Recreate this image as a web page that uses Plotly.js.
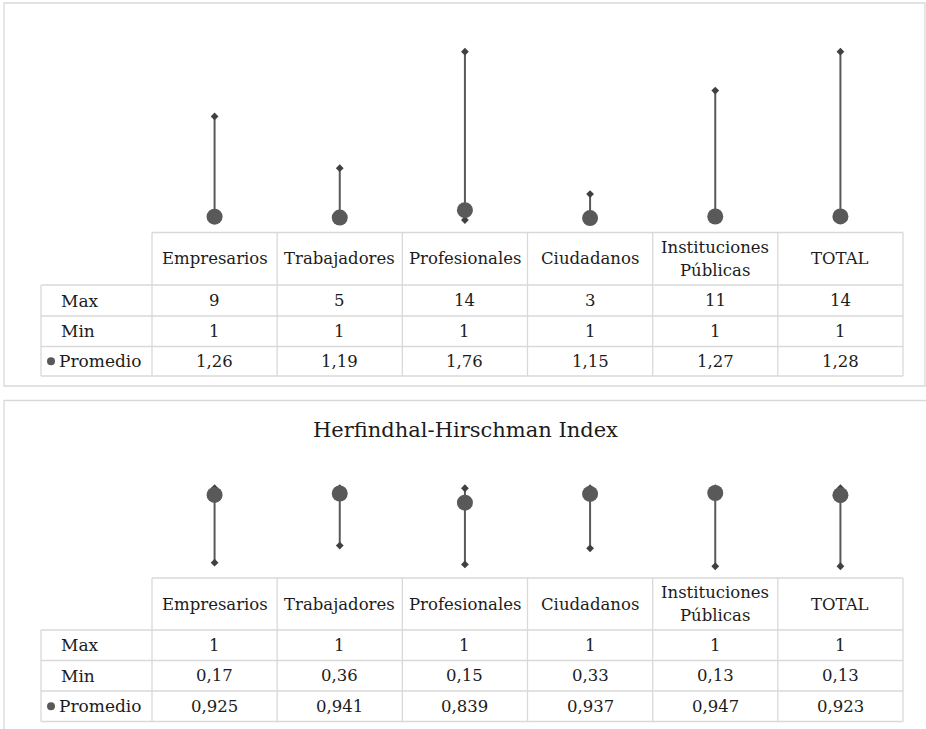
<!DOCTYPE html>
<html><head><meta charset="utf-8">
<script src="https://cdn.plot.ly/plotly-3.0.1.min.js"></script>
<style>html,body{margin:0;padding:0;background:#fff}#chart{width:926px;height:729px}</style>
</head><body><div id="chart"></div>
<script>
// ---------- data ----------
const categories = ['Empresarios','Trabajadores','Profesionales','Ciudadanos','Instituciones Públicas','TOTAL'];
const headerLabels = ['Empresarios','Trabajadores','Profesionales','Ciudadanos','Instituciones<br>Públicas','TOTAL'];
const rowLabels = ['Max','Min','Promedio'];
const countMax = [9,5,14,3,11,14];
const countMin = [1,1,1,1,1,1];
const countAvg = [1.26,1.19,1.76,1.15,1.27,1.28];
const hhiMax = [1,1,1,1,1,1];
const hhiMin = [0.17,0.36,0.15,0.33,0.13,0.13];
const hhiAvg = [0.925,0.941,0.839,0.937,0.947,0.923];
const hhiTitle = 'Herfindhal-Hirschman Index';

// ---------- layout constants (pixels) ----------
const W = 926, H = 729;
const PX = x => x / W;
const PY = y => 1 - y / H;
const LEG_LEFT = 41, CAT_LEFT = 152, CAT_RIGHT = 903;
const topRows = [232.5, 285, 316, 346.5, 376];
const botRows = [578, 630, 660.5, 691, 721.5];
const GRID = '#d9d9d9';
const TXT = '#1c1c1c';
const FONT = 'DejaVu Serif';
const FSIZE = 16.5;
const LEG_FSIZE = 17;
const LINE_GAP = 23;
const LINE_COL = '#595959', DIAM_COL = '#404040', DOT_COL = '#595959';

const fmt = v => String(v).replace('.', ',');

function rangeTraces(mx, mn, avg, xa, ya) {
  const lx = [], ly = [];
  categories.forEach((c, i) => { lx.push(c, c, null); ly.push(mn[i], mx[i], null); });
  const base = {xaxis: xa, yaxis: ya, type: 'scatter', hoverinfo: 'skip', showlegend: false, cliponaxis: false};
  return [
    Object.assign({}, base, {x: lx, y: ly, mode: 'lines', line: {color: LINE_COL, width: 2}}),
    Object.assign({}, base, {x: categories, y: mx, mode: 'markers', marker: {symbol: 'diamond', size: 6, color: DIAM_COL}}),
    Object.assign({}, base, {x: categories, y: mn, mode: 'markers', marker: {symbol: 'diamond', size: 6, color: DIAM_COL}}),
    Object.assign({}, base, {x: categories, y: avg, mode: 'markers', marker: {symbol: 'circle', size: 16, color: DOT_COL}})
  ];
}

const shapes = [];
const annotations = [];
function hline(x0, x1, y, col, w) { shapes.push({type: 'line', xref: 'paper', yref: 'paper', x0: PX(x0), x1: PX(x1), y0: PY(y), y1: PY(y), line: {color: col || GRID, width: w || 1.3}}); }
function vline(x, y0, y1, col, w) { shapes.push({type: 'line', xref: 'paper', yref: 'paper', x0: PX(x), x1: PX(x), y0: PY(y0), y1: PY(y1), line: {color: col || GRID, width: w || 1.3}}); }

function buildTable(rows, xa, values) {
  const cw = (CAT_RIGHT - CAT_LEFT) / categories.length;
  hline(CAT_LEFT, CAT_RIGHT, rows[0]);
  for (let r = 1; r < rows.length; r++) hline(LEG_LEFT, CAT_RIGHT, rows[r]);
  for (let c = 0; c <= categories.length; c++) vline(CAT_LEFT + c * cw, rows[0], rows[rows.length - 1]);
  vline(LEG_LEFT, rows[1], rows[rows.length - 1]);
  const hy = (rows[0] + rows[1]) / 2;
  headerLabels.forEach((lab, i) => {
    const parts = lab.split('<br>');
    parts.forEach((p, k) => {
      annotations.push({xref: xa, yref: 'paper', x: categories[i], y: PY(hy + (k - (parts.length - 1) / 2) * LINE_GAP),
        text: p, showarrow: false, xanchor: 'center', yanchor: 'middle', font: {family: FONT, size: FSIZE, color: TXT}});
    });
  });
  values.forEach((arr, r) => {
    const cy = (rows[r + 1] + rows[r + 2]) / 2;
    annotations.push({xref: 'paper', yref: 'paper', x: PX(r === 2 ? 57 : 59), y: PY(cy), text: rowLabels[r], showarrow: false,
      xanchor: 'left', yanchor: 'middle', font: {family: FONT, size: LEG_FSIZE, color: TXT}});
    arr.forEach((v, i) => {
      annotations.push({xref: xa, yref: 'paper', x: categories[i], y: PY(cy), text: fmt(v), showarrow: false,
        xanchor: 'center', yanchor: 'middle', font: {family: FONT, size: FSIZE, color: TXT}});
    });
  });
  const py = (rows[3] + rows[4]) / 2;
  shapes.push({type: 'circle', xref: 'paper', yref: 'paper', x0: PX(47), x1: PX(55), y0: PY(py - 4), y1: PY(py + 4),
    fillcolor: DOT_COL, line: {width: 0}});
}

shapes.push({type: 'rect', xref: 'paper', yref: 'paper', x0: PX(4), x1: PX(925), y0: PY(3), y1: PY(386), line: {color: GRID, width: 1.3}});
shapes.push({type: 'rect', xref: 'paper', yref: 'paper', x0: PX(4), x1: PX(945), y0: PY(400.5), y1: PY(760), line: {color: GRID, width: 1.3}});

buildTable(topRows, 'x', [countMax, countMin, countAvg]);
buildTable(botRows, 'x2', [hhiMax, hhiMin, hhiAvg]);

const data = [].concat(
  rangeTraces(countMax, countMin, countAvg, 'x', 'y'),
  rangeTraces(hhiMax, hhiMin, hhiAvg, 'x2', 'y2')
);

const xdom = [PX(CAT_LEFT), PX(CAT_RIGHT)];
const hidden = {showgrid: false, zeroline: false, showline: false, showticklabels: false, ticks: '', fixedrange: true};
const layout = {
  width: W, height: H,
  margin: {l: 0, r: 0, t: 0, b: 0},
  paper_bgcolor: '#fff', plot_bgcolor: 'rgba(0,0,0,0)',
  showlegend: false,
  title: {text: hhiTitle, font: {family: FONT, size: 21, color: TXT}, xref: 'container', yref: 'container',
    x: 465.5 / W, xanchor: 'center', y: PY(430), yanchor: 'middle'},
  xaxis: Object.assign({domain: xdom, type: 'category', categoryarray: categories, range: [-0.5, 5.5], anchor: 'y'}, hidden),
  yaxis: Object.assign({domain: [PY(232.95), PY(25.8)], range: [0, 16], anchor: 'x'}, hidden),
  xaxis2: Object.assign({domain: xdom, type: 'category', categoryarray: categories, range: [-0.5, 5.5], anchor: 'y2'}, hidden),
  yaxis2: Object.assign({domain: [PY(577.9), PY(470.3)], range: [0, 1.2], anchor: 'x2'}, hidden),
  shapes: shapes,
  annotations: annotations
};

Plotly.newPlot('chart', data, layout, {staticPlot: true, displayModeBar: false});
</script>
</body></html>
